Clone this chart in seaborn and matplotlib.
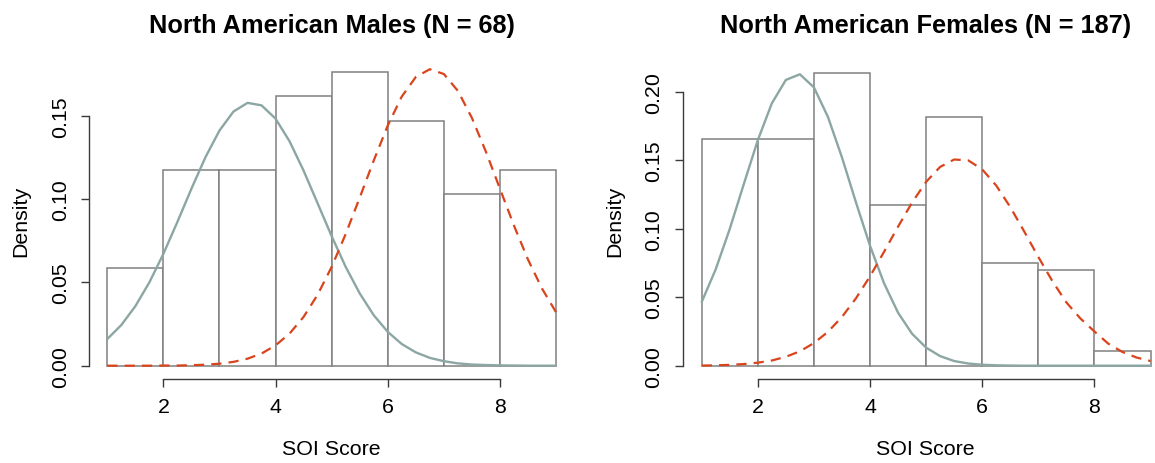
import numpy as np
import pandas as pd
import matplotlib
matplotlib.use("Agg")
import matplotlib.pyplot as plt
import seaborn as sns

# ---------------- data ----------------
bin_edges = [1, 2, 3, 4, 5, 6, 7, 8, 9]
bin_centers = [1.5, 2.5, 3.5, 4.5, 5.5, 6.5, 7.5, 8.5]

males_density = [0.0588, 0.1176, 0.1176, 0.1618, 0.1765, 0.1471, 0.1029, 0.1176]
females_density = [0.1658, 0.1658, 0.2139, 0.1176, 0.1818, 0.0749, 0.0695, 0.0107]

curve_x = [1.00, 1.25, 1.50, 1.75, 2.00, 2.25, 2.50, 2.75, 3.00, 3.25, 3.50,
           3.75, 4.00, 4.25, 4.50, 4.75, 5.00, 5.25, 5.50, 5.75, 6.00, 6.25,
           6.50, 6.75, 7.00, 7.25, 7.50, 7.75, 8.00, 8.25, 8.50, 8.75, 9.00]

males_gray = [0.0160, 0.0244, 0.0357, 0.0500, 0.0671, 0.0863, 0.1062, 0.1251,
              0.1411, 0.1525, 0.1577, 0.1562, 0.1482, 0.1346, 0.1170, 0.0974,
              0.0777, 0.0593, 0.0434, 0.0303, 0.0203, 0.0130, 0.0080, 0.0047,
              0.0027, 0.0014, 0.0007, 0.0004, 0.0002, 0.0001, 0.0000, 0.0000,
              0.0000]
males_red = [0.0000, 0.0000, 0.0000, 0.0000, 0.0001, 0.0001, 0.0003, 0.0006,
             0.0012, 0.0023, 0.0042, 0.0073, 0.0122, 0.0193, 0.0293, 0.0426,
             0.0593, 0.0790, 0.1008, 0.1231, 0.1441, 0.1615, 0.1732, 0.1779,
             0.1750, 0.1649, 0.1487, 0.1284, 0.1062, 0.0841, 0.0637, 0.0463,
             0.0321]
females_gray = [0.0465, 0.0704, 0.0998, 0.1325, 0.1646, 0.1915, 0.2086, 0.2127,
                0.2032, 0.1816, 0.1521, 0.1192, 0.0876, 0.0602, 0.0387, 0.0233,
                0.0132, 0.0070, 0.0034, 0.0016, 0.0007, 0.0003, 0.0001, 0.0000,
                0.0000, 0.0000, 0.0000, 0.0000, 0.0000, 0.0000, 0.0000, 0.0000,
                0.0000]
females_red = [0.0001, 0.0003, 0.0006, 0.0012, 0.0022, 0.0038, 0.0065, 0.0105,
               0.0165, 0.0247, 0.0356, 0.0492, 0.0652, 0.0831, 0.1015, 0.1191,
               0.1342, 0.1451, 0.1505, 0.1499, 0.1433, 0.1315, 0.1158, 0.0979,
               0.0794, 0.0618, 0.0462, 0.0345, 0.0250, 0.0160, 0.0100, 0.0060,
               0.0034]

titles = ["North American Males (N = 68)", "North American Females (N = 187)"]
x_ticks = [2, 4, 6, 8]
y_ticks_males = [0.00, 0.05, 0.10, 0.15]
y_ticks_females = [0.00, 0.05, 0.10, 0.15, 0.20]
x_label = "SOI Score"
y_label = "Density"

# ---------------- style ----------------
sns.set_theme(style="white")
plt.rcParams["font.family"] = ["Liberation Sans", "DejaVu Sans"]

W, H = 1155, 464
fig = plt.figure(figsize=(W / 100, H / 100), dpi=100)

GRAY_LINE = "#8CA6A3"
RED_LINE = "#D9441C"
BAR_EDGE = "#808080"
AXIS_COL = "#3a3a3a"
FS = 15.4


def make_axes(px_x1, px_per_x, px_left, px_right, px_y0, px_per_y, px_bottom, px_top):
    ax = fig.add_axes([px_left / W, (H - px_bottom) / H,
                       (px_right - px_left) / W, (px_bottom - px_top) / H])
    ax.set_xlim(1 + (px_left - px_x1) / px_per_x, 1 + (px_right - px_x1) / px_per_x)
    ax.set_ylim(-(px_bottom - px_y0) / px_per_y, (px_y0 - px_top) / px_per_y)
    return ax


panels = [
    dict(ax=make_axes(107.3, 56.09, 89.4, 574.0, 366.7, 1666.7, 380, 50),
         dens=males_density, gray=males_gray, red=males_red,
         yticks=y_ticks_males, title=titles[0], title_x=332.0),
    dict(ax=make_axes(701.7, 56.1, 682.7, 1168.0, 366.7, 1370.0, 380, 50),
         dens=females_density, gray=females_gray, red=females_red,
         yticks=y_ticks_females, title=titles[1], title_x=925.5),
]

for p in panels:
    ax = p["ax"]
    ax.set_facecolor("none")
    sns.histplot(x=bin_centers, weights=p["dens"], bins=bin_edges, stat="count",
                 ax=ax, color="white", edgecolor=BAR_EDGE, linewidth=1.1, alpha=1)
    sns.lineplot(x=curve_x, y=p["gray"], ax=ax, color=GRAY_LINE, linewidth=1.7)
    sns.lineplot(x=curve_x, y=p["red"], ax=ax, color=RED_LINE, linewidth=1.6,
                 linestyle=(0, (4.6, 3.2)))

    for s in ["top", "right"]:
        ax.spines[s].set_visible(False)
    for s in ["left", "bottom"]:
        ax.spines[s].set_color(AXIS_COL)
        ax.spines[s].set_linewidth(1.0)
    ax.spines["left"].set_bounds(p["yticks"][0], p["yticks"][-1])
    ax.spines["bottom"].set_bounds(x_ticks[0], x_ticks[-1])

    ax.set_xticks(x_ticks)
    ax.set_xticklabels([str(t) for t in x_ticks])
    ax.set_yticks(p["yticks"])
    ax.set_yticklabels([f"{t:.2f}" for t in p["yticks"]], rotation=90, va="center")
    ax.tick_params(axis="both", which="both", length=6, width=1.0, color=AXIS_COL,
                   labelsize=FS, labelcolor="black", direction="out",
                   bottom=True, left=True)
    ax.tick_params(axis="x", pad=7)
    ax.tick_params(axis="y", pad=8)
    ax.grid(False)

    ax.set_xlabel(x_label, fontsize=FS, color="black", va="center")
    ax.xaxis.set_label_coords(0.5, (380 - 450) / 330)
    ax.set_ylabel(y_label, fontsize=FS, color="black", va="center")
    ax.yaxis.set_label_coords(-0.141, (380 - 221) / 330)

    fig.text(p["title_x"] / W, 1 - 26 / H, p["title"], ha="center", va="center",
             fontsize=18.3, fontweight="bold", color="black")

fig.savefig("out.png", dpi=100)
